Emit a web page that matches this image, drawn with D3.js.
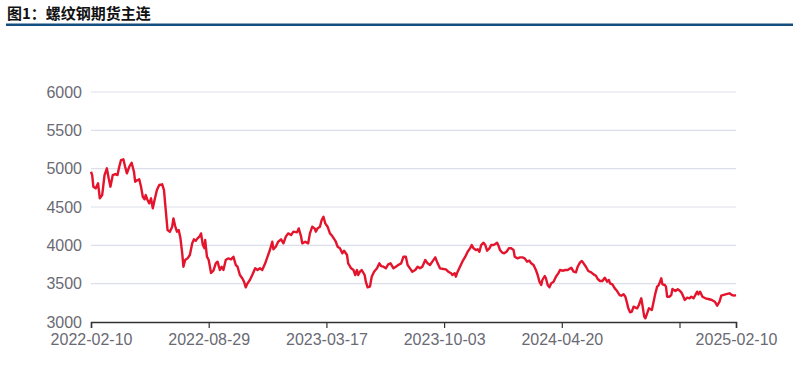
<!DOCTYPE html>
<html>
<head>
<meta charset="utf-8">
<script src="https://cdn.jsdelivr.net/npm/d3@7"></script>
<style>
  body { margin: 0; background: #fff; }
  svg { display: block; }
</style>
</head>
<body>
<svg id="chart"></svg>
<script>
/* global d3 */

// chart data
let title = "图1：螺纹钢期货主连";

let dates = [
  "2022-02-10","2022-02-12","2022-02-14","2022-02-18","2022-02-22","2022-02-25","2022-03-01","2022-03-05",
  "2022-03-09","2022-03-12","2022-03-15","2022-03-19","2022-03-23","2022-03-27","2022-03-30","2022-04-02",
  "2022-04-06","2022-04-09","2022-04-12","2022-04-16","2022-04-20","2022-04-24","2022-04-26","2022-04-30",
  "2022-05-03","2022-05-06","2022-05-09","2022-05-12","2022-05-14","2022-05-17","2022-05-20","2022-05-23",
  "2022-05-26","2022-05-29","2022-06-02","2022-06-06","2022-06-11","2022-06-14","2022-06-17","2022-06-20",
  "2022-06-24","2022-06-28","2022-06-30","2022-07-03","2022-07-06","2022-07-09","2022-07-12","2022-07-15",
  "2022-07-17","2022-07-20","2022-07-24","2022-07-28","2022-08-01","2022-08-04","2022-08-07","2022-08-10",
  "2022-08-14","2022-08-16","2022-08-19","2022-08-22","2022-08-23","2022-08-26","2022-08-29","2022-09-02",
  "2022-09-06","2022-09-10","2022-09-13","2022-09-17","2022-09-20","2022-09-23","2022-09-27","2022-10-01",
  "2022-10-06","2022-10-10","2022-10-14","2022-10-17","2022-10-21","2022-10-25","2022-10-28","2022-10-31",
  "2022-11-03","2022-11-07","2022-11-11","2022-11-16","2022-11-20","2022-11-24","2022-11-28","2022-12-03",
  "2022-12-07","2022-12-11","2022-12-15","2022-12-17","2022-12-21","2022-12-25","2022-12-30","2023-01-03",
  "2023-01-07","2023-01-11","2023-01-16","2023-01-20","2023-01-26","2023-01-29","2023-02-02","2023-02-04",
  "2023-02-09","2023-02-14","2023-02-17","2023-02-21","2023-02-25","2023-02-27","2023-03-02","2023-03-06",
  "2023-03-09","2023-03-12","2023-03-15","2023-03-19","2023-03-23","2023-03-27","2023-04-02","2023-04-05",
  "2023-04-09","2023-04-13","2023-04-16","2023-04-21","2023-04-23","2023-04-28","2023-05-02","2023-05-05",
  "2023-05-08","2023-05-10","2023-05-13","2023-05-16","2023-05-21","2023-05-23","2023-05-26","2023-05-30",
  "2023-06-02","2023-06-06","2023-06-11","2023-06-15","2023-06-18","2023-06-22","2023-06-26","2023-06-30",
  "2023-07-04","2023-07-09","2023-07-13","2023-07-17","2023-07-22","2023-07-26","2023-07-30","2023-08-02",
  "2023-08-06","2023-08-10","2023-08-15","2023-08-19","2023-08-23","2023-08-27","2023-09-01","2023-09-05",
  "2023-09-09","2023-09-13","2023-09-18","2023-09-22","2023-09-26","2023-10-02","2023-10-06","2023-10-10",
  "2023-10-15","2023-10-17","2023-10-21","2023-10-23","2023-10-26","2023-10-30","2023-11-03","2023-11-08",
  "2023-11-12","2023-11-16","2023-11-19","2023-11-22","2023-11-26","2023-11-29","2023-12-02","2023-12-05",
  "2023-12-09","2023-12-12","2023-12-15","2023-12-19","2023-12-22","2023-12-26","2023-12-29","2024-01-01",
  "2024-01-03","2024-01-06","2024-01-10","2024-01-13","2024-01-17","2024-01-21","2024-01-25","2024-01-29",
  "2024-01-31","2024-02-05","2024-02-09","2024-02-13","2024-02-17","2024-02-21","2024-02-25","2024-02-28",
  "2024-03-03","2024-03-07","2024-03-10","2024-03-13","2024-03-16","2024-03-18","2024-03-22","2024-03-24",
  "2024-03-27","2024-03-30","2024-04-02","2024-04-06","2024-04-10","2024-04-14","2024-04-17","2024-04-21",
  "2024-04-26","2024-04-30","2024-05-06","2024-05-10","2024-05-14","2024-05-17","2024-05-21","2024-05-24",
  "2024-05-27","2024-05-31","2024-06-04","2024-06-09","2024-06-13","2024-06-17","2024-06-20","2024-06-24",
  "2024-06-28","2024-07-02","2024-07-06","2024-07-09","2024-07-11","2024-07-15","2024-07-19","2024-07-23",
  "2024-07-27","2024-07-30","2024-08-03","2024-08-06","2024-08-09","2024-08-11","2024-08-14","2024-08-17",
  "2024-08-20","2024-08-23","2024-08-26","2024-08-29","2024-09-01","2024-09-02","2024-09-04","2024-09-07",
  "2024-09-09","2024-09-12","2024-09-15","2024-09-17","2024-09-20","2024-09-23","2024-09-26","2024-09-29",
  "2024-10-01","2024-10-04","2024-10-06","2024-10-08","2024-10-12","2024-10-14","2024-10-16","2024-10-20",
  "2024-10-23","2024-10-25","2024-10-30","2024-11-03","2024-11-07","2024-11-10","2024-11-15","2024-11-19",
  "2024-11-23","2024-11-26","2024-11-30","2024-12-06","2024-12-08","2024-12-11","2024-12-15","2024-12-20",
  "2024-12-25","2024-12-31","2025-01-05","2025-01-09","2025-01-13","2025-01-16","2025-01-23","2025-01-30",
  "2025-02-03","2025-02-07","2025-02-10"
];

let prices = [
  4960,4917,4765,4743,4809,4613,4656,4917,
  5004,4874,4765,4917,4930,4917,5025,5112,
  5122,5025,4939,5025,5077,4960,4830,4852,
  4861,4765,4634,4600,4656,4591,4548,4613,
  4483,4591,4721,4787,4796,4721,4460,4200,
  4178,4243,4352,4252,4178,4200,4091,3896,
  3721,3808,3830,3874,4026,4078,4060,4091,
  4121,4156,4004,3961,4069,3852,3808,3640,
  3670,3765,3787,3678,3721,3678,3808,3830,
  3817,3852,3743,3721,3613,3570,3526,3452,
  3504,3548,3613,3700,3678,3700,3678,3765,
  3852,3939,4047,3948,3982,4047,4078,4026,
  4113,4156,4134,4178,4169,4221,4113,4026,
  4047,4026,4156,4243,4221,4178,4221,4243,
  4330,4373,4287,4243,4156,4121,4047,3982,
  3961,3896,3930,3874,3765,3700,3678,3613,
  3678,3613,3656,3678,3613,3526,3452,3461,
  3591,3656,3700,3765,3730,3721,3700,3752,
  3765,3700,3721,3743,3765,3852,3852,3743,
  3700,3656,3678,3721,3700,3721,3808,3765,
  3743,3787,3843,3765,3700,3691,3687,3656,
  3635,3613,3635,3591,3656,3721,3787,3852,
  3917,3961,4004,3961,3939,3948,3917,4004,
  4034,4004,3930,3961,4004,4004,4017,4034,
  4004,3939,3904,3896,3917,3961,3961,3939,
  3852,3830,3843,3843,3830,3787,3800,3765,
  3743,3678,3613,3526,3483,3548,3600,3570,
  3483,3452,3504,3526,3591,3635,3678,3669,
  3678,3678,3708,3656,3647,3721,3778,3795,
  3765,3721,3665,3647,3621,3604,3561,3535,
  3535,3578,3526,3548,3504,3491,3439,3404,
  3352,3343,3361,3330,3243,3178,3126,3135,
  3200,3187,3178,3222,3287,3309,3222,3070,
  3048,3113,3178,3170,3157,3265,3374,3461,
  3474,3526,3570,3491,3483,3461,3330,3330,
  3352,3430,3404,3426,3404,3374,3287,3317,
  3309,3330,3309,3396,3360,3396,3330,3309,
  3300,3287,3265,3213,3265,3343,3361,3374,
  3352,3345,3350
];

let yTicks = [3000, 3500, 4000, 4500, 5000, 5500, 6000];
let xTickDates = ["2022-02-10", "2022-08-29", "2023-03-17", "2023-10-03", "2024-04-20", "2024-11-06", "2025-02-10"];
let hiddenTickLabels = ["2024-11-06"];

const WIDTH = 795;
const HEIGHT = 372;
const margin = { top: 92, right: 59, bottom: 50, left: 91 };

let parseDate = d3.timeParse("%Y-%m-%d");
let fmt = d3.timeFormat("%Y-%m-%d");

let series = dates.map((d, i) => ({ date: parseDate(d), value: prices[i] }));

let svg = d3.select("#chart")
  .attr("width", WIDTH)
  .attr("height", HEIGHT);

// title + rule
svg.append("text")
  .attr("x", 7)
  .attr("y", 19)
  .style("font-family", "'Noto Sans CJK SC', sans-serif")
  .style("font-size", "15px")
  .style("font-weight", "bold")
  .style("fill", "#111")
  .text(title);

svg.append("line")
  .attr("x1", 6).attr("x2", 793)
  .attr("y1", 24.7).attr("y2", 24.7)
  .style("stroke", "#134e7e")
  .style("stroke-width", 2.5);

let x = d3.scaleTime()
  .domain([parseDate(xTickDates[0]), parseDate(xTickDates[xTickDates.length - 1])])
  .range([margin.left, WIDTH - margin.right]);

let y = d3.scaleLinear()
  .domain([3000, 6000])
  .range([HEIGHT - margin.bottom, margin.top]);

// gridlines
svg.append("g")
  .attr("class", "grid")
  .selectAll("line")
  .data(yTicks.slice(1))
.enter().append("line")
  .attr("x1", x.range()[0])
  .attr("x2", x.range()[1])
  .attr("y1", d => y(d))
  .attr("y2", d => y(d))
  .style("stroke", "#dcdfe9")
  .style("stroke-width", 1.2);

// y axis labels
let yAxis = svg.append("g")
  .attr("transform", "translate(" + margin.left + ",0)")
  .call(d3.axisLeft(y).tickValues(yTicks).tickSize(0).tickPadding(9).tickFormat(d3.format("d")));
yAxis.select(".domain").remove();
yAxis.selectAll("text")
  .style("font-family", "'Liberation Sans', Arial, sans-serif")
  .style("font-size", "16px")
  .style("fill", "#6a6a74");

// line
let line = d3.line()
  .x(d => x(d.date))
  .y(d => y(d.value));

svg.append("path")
  .datum(series)
  .attr("d", line)
  .style("fill", "none")
  .style("stroke", "#e3142c")
  .style("stroke-width", 2.4)
  .style("stroke-linejoin", "round");

// x axis
let xAxis = svg.append("g")
  .attr("transform", "translate(0," + y(3000) + ")")
  .call(d3.axisBottom(x)
    .tickValues(xTickDates.map(parseDate))
    .tickSize(6)
    .tickPadding(6)
    .tickFormat(d => hiddenTickLabels.includes(fmt(d)) ? "" : fmt(d)));
xAxis.select(".domain")
  .style("stroke", "#333")
  .style("stroke-width", 1.5);
xAxis.selectAll(".tick line")
  .style("stroke", "#333")
  .style("stroke-width", 1.2);
xAxis.selectAll("text")
  .style("font-family", "'Liberation Sans', Arial, sans-serif")
  .style("font-size", "16px")
  .style("fill", "#6a6a74");
</script>
</body>
</html>
